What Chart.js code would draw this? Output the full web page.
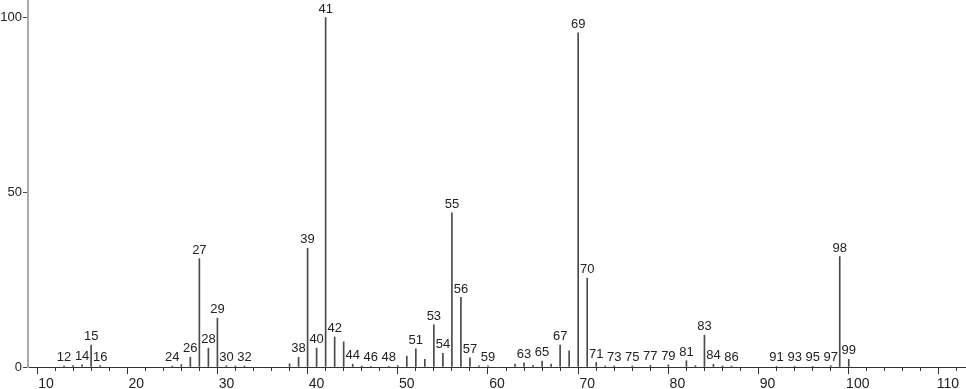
<!DOCTYPE html>
<html>
<head>
<meta charset="utf-8">
<script src="https://cdn.jsdelivr.net/npm/chart.js@4/dist/chart.umd.min.js"></script>
<style>
  html, body { margin: 0; padding: 0; background: #fff; }
  #wrap { width: 966px; height: 389px; position: relative; }
</style>
</head>
<body>
<div id="wrap"><canvas id="c"></canvas></div>
<script>
// m/z values and relative intensities
const mz = [12,13,14,15,16,24,25,26,27,28,29,30,31,32,37,38,39,40,41,42,43,44,45,46,48,49,50,51,52,53,54,55,56,57,58,59,62,63,64,65,66,67,68,69,70,71,72,73,75,77,79,81,82,83,84,85,86,91,93,95,97,98,99];
const intensity = [0.3,0.4,0.6,6.3,0.4,0.3,0.7,2.8,31.0,5.4,14.0,0.4,0.3,0.3,0.9,2.8,34.0,5.4,100,8.6,7.2,0.8,0.3,0.2,0.2,0.4,3.1,5.2,2.2,12.1,3.9,44.1,19.9,2.6,0.3,0.3,0.8,1.2,0.5,1.7,0.8,6.3,4.6,95.6,25.4,1.3,0.3,0.3,0.3,0.5,0.6,1.8,0.4,9.1,0.8,0.3,0.3,0.2,0.2,0.2,0.4,31.6,2.2];
// peaks that carry a text label
const labeledMz = [12,14,15,16,24,26,27,28,29,30,32,38,39,40,41,42,44,46,48,51,53,54,55,56,57,59,63,65,67,69,70,71,73,75,77,79,81,83,84,86,91,93,95,97,98,99];
// axis ticks
const xMin = 8, xMax = 112, xMinorStep = 2, xMajorStep = 10;
const yMin = 0, yMax = 105, yStep = 50;

const FONT = '"Liberation Sans", Arial, sans-serif';

const peakLabels = {
  id: 'peakLabels',
  afterDatasetsDraw(chart) {
    const ctx = chart.ctx;
    const meta = chart.getDatasetMeta(0);
    ctx.save();
    ctx.font = '13px ' + FONT;
    ctx.fillStyle = '#222';
    ctx.textAlign = 'center';
    ctx.textBaseline = 'bottom';
    meta.data.forEach((el, i) => {
      const m = mz[i];
      if (labeledMz.includes(m)) {
        ctx.fillText(String(m), el.x, el.y - 2);
      }
    });
    ctx.restore();
  }
};

const isYTick = (v) => v % yStep === 0;

new Chart(document.getElementById('c'), {
  type: 'bar',
  data: {
    datasets: [{
      data: mz.map((m, i) => ({ x: m, y: intensity[i] })),
      backgroundColor: '#4a4a4a',
      borderWidth: 0,
      barThickness: 1,
      grouped: false
    }]
  },
  options: {
    responsive: true,
    maintainAspectRatio: false,
    animation: false,
    events: [],
    layout: { padding: { top: 0, right: 0, left: 0, bottom: 0 } },
    plugins: { legend: { display: false }, tooltip: { enabled: false } },
    scales: {
      x: {
        type: 'linear',
        min: xMin, max: xMax,
        bounds: 'data',
        offset: false,
        border: { display: true, color: '#333', width: 1 },
        grid: {
          drawOnChartArea: false,
          drawTicks: true,
          tickLength: 7,
          tickColor: '#333',
          tickBorderDash: (ctx) => (ctx.tick && ctx.tick.value % xMajorStep === 0) ? [] : [3, 40]
        },
        ticks: {
          stepSize: xMinorStep,
          autoSkip: false,
          maxRotation: 0,
          includeBounds: false,
          padding: 2,
          color: '#222',
          font: { family: FONT, size: 14 },
          callback: (v) => (v % xMajorStep === 0 ? String(v) : '')
        },
        afterFit: (s) => { s.height = 22; s.paddingLeft = 0; s.paddingRight = 0; }
      },
      y: {
        min: yMin, max: yMax,
        bounds: 'data',
        border: { display: true, color: '#aaa', width: 2 },
        grid: {
          drawOnChartArea: false,
          tickLength: 5,
          tickColor: (ctx) => (ctx.tick && isYTick(ctx.tick.value)) ? '#444' : 'rgba(0,0,0,0)'
        },
        ticks: {
          stepSize: yStep,
          includeBounds: false,
          padding: 1,
          color: '#222',
          font: { family: FONT, size: 13 },
          callback: (v) => (isYTick(v) ? String(v) : '')
        },
        afterFit: (s) => { s.width = 28; s.paddingTop = 0; s.paddingBottom = 0; }
      }
    }
  },
  plugins: [peakLabels]
});
</script>
</body>
</html>
